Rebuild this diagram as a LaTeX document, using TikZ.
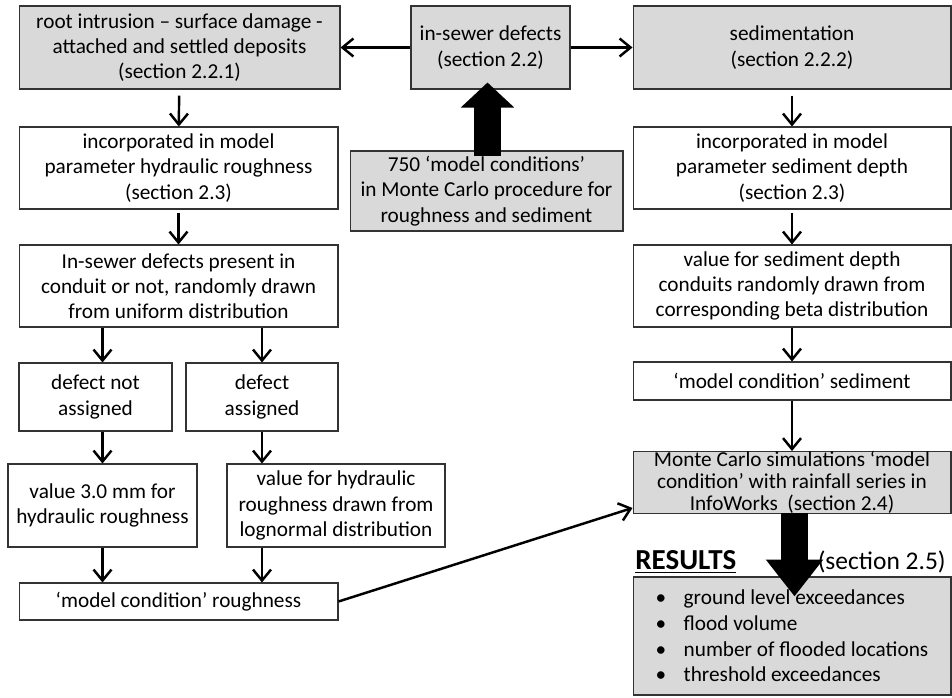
\documentclass[tikz,border=0pt]{standalone}
\usepackage{fontspec}
\setmainfont{Carlito}
\usetikzlibrary{arrows.meta}
\usetikzlibrary{calc}

\tikzset{
	box/.style={draw=black!80, line width=0.6pt, align=center, inner sep=0pt,
		font=\fontsize{12.1}{14.4}\selectfont},
	graybox/.style={box, fill=black!15},
	arr/.style={line width=1.4pt, -{Straight Barb[length=2.2mm,width=3.6mm]}},
	blockarr/.style={line width=0.54cm, -{Triangle[length=0.5cm,width=1.04cm]}},
}

\begin{document}
\begin{tikzpicture}[x=0.02cm, y=-0.02cm]
	\useasboundingbox (0,0) rectangle (952,697);
	% top row
	\node[graybox, minimum width=6.42cm, minimum height=1.66cm] (root) at (179.5,47.5)
		{root intrusion -- surface damage -\\attached and settled deposits\\(section 2.2.1)};
	\node[graybox, minimum width=3.18cm, minimum height=1.66cm] (insewer) at (490.5,47.5)
		{in-sewer defects\\(section 2.2)};
	\node[graybox, minimum width=6.36cm, minimum height=1.66cm] (sed) at (792,47.5)
		{sedimentation\\(section 2.2.2)};
	\node[graybox, minimum width=5.46cm, minimum height=1.6cm] (mc750) at (486.5,191)
		{750 `model conditions'\\in Monte Carlo procedure for\\roughness and sediment};
	% left column: roughness
	\node[box, minimum width=6.38cm, minimum height=1.64cm] (incL) at (178.5,168)
		{incorporated in model\\parameter hydraulic roughness\\(section 2.3)};
	\node[box, minimum width=6.38cm, minimum height=1.64cm] (present) at (178.5,286)
		{In-sewer defects present in\\conduit or not, randomly drawn\\from uniform distribution};
	\node[box, minimum width=3.06cm, minimum height=1.36cm] (notass) at (95.5,397)
		{defect not\\assigned};
	\node[box, minimum width=3.04cm, minimum height=1.36cm] (ass) at (262,397)
		{defect\\assigned};
	\node[box, minimum width=3.78cm, minimum height=1.66cm] (val30) at (102.5,505.5)
		{value 3.0 mm for\\hydraulic roughness};
	\node[box, minimum width=4.36cm, minimum height=1.66cm] (valhyd) at (336,505.5)
		{value for hydraulic\\roughness drawn from\\lognormal distribution};
	\node[box, minimum width=6.38cm, minimum height=0.74cm] (mcr) at (178.5,601.5)
		{`model condition' roughness};
	% right column: sediment
	\node[box, minimum width=6.36cm, minimum height=1.64cm] (incR) at (792,168)
		{incorporated in model\\parameter sediment depth\\(section 2.3)};
	\node[box, minimum width=6.36cm, minimum height=1.64cm] (valsed) at (792,286)
		{value for sediment depth\\conduits randomly drawn from\\corresponding beta distribution};
	\node[box, minimum width=6.36cm, minimum height=0.76cm] (mcs) at (792,381)
		{`model condition' sediment};
	\node[graybox, minimum width=6.36cm, minimum height=1.18cm,
		font=\fontsize{12.1}{12.4}\selectfont] (monte) at (792,482.5)
		{Monte Carlo simulations `model\\condition' with rainfall series in\\InfoWorks~ (section 2.4)};
	\node[graybox, minimum width=6.36cm, minimum height=2.36cm, align=left,
		font=\fontsize{12.1}{14.6}\selectfont] (results) at (792,636)
		{\makebox[0.56cm][l]{\textbullet}ground level exceedances\\
		 \makebox[0.56cm][l]{\textbullet}flood volume\\
		 \makebox[0.56cm][l]{\textbullet}number of flooded locations\hspace{0.2cm}\\
		 \makebox[0.56cm][l]{\textbullet}threshold exceedances};
	\node[anchor=west, inner sep=0pt, font=\fontsize{16.5}{18}\selectfont\bfseries] (restitle) at (635,562)
		{\underline{RESULTS}};
	\node[anchor=east, inner sep=0pt, font=\fontsize{14.5}{16}\selectfont] (ressec) at (946,562)
		{(section 2.5)};
	
	% connectors
	\draw[arr] (insewer) -- (root);
	\draw[arr] (insewer) -- (sed);
	\draw[arr, shorten <=0.12cm] (root) -- (incL);
	\draw[arr, shorten <=0.06cm] (incL) -- (present);
	\draw[arr] (present.south -| val30) -- (notass.north -| val30);
	\draw[arr] (present.south -| ass) -- (ass);
	\draw[arr] (notass.south -| val30) -- (val30);
	\draw[arr] (ass) -- (valhyd.north -| ass);
	\draw[arr] (val30) -- (mcr.north -| val30);
	\draw[arr] (valhyd.south -| ass) -- (mcr.north -| ass);
	\draw[arr] (mcr.east) -- ($(monte.south west)+(0,-6)$);
	\draw[arr, shorten <=0.12cm] (sed) -- (incR);
	\draw[arr, shorten <=0.06cm] (incR) -- (valsed);
	\draw[arr] (valsed) -- (mcs);
	\draw[arr] (mcs) -- (monte);
	% block arrows
	\draw[blockarr] ($(mc750.north)+(1,6)$) -- ($(insewer.south -| mc750.north)+(1,-7)$);
	\draw[blockarr, -{Triangle[length=0.74cm,width=1.1cm]}] ($(monte.south)+(2.5,-1)$) -- ($(results.north)+(2.5,20)$);
	
\end{tikzpicture}
\end{document}
